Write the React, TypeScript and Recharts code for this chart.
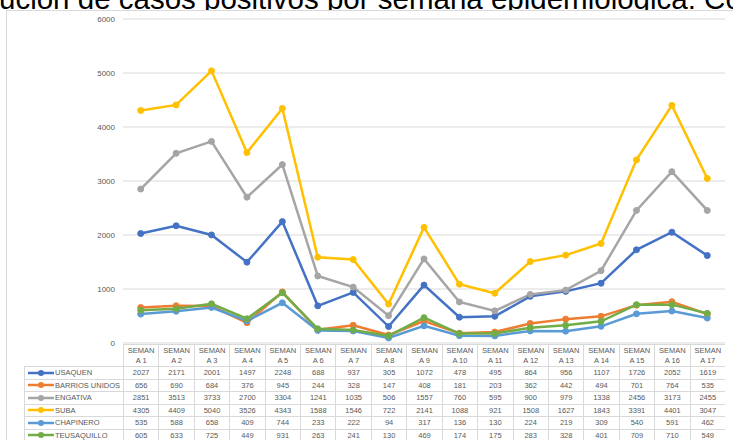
import React from 'react';
import { LineChart, Line, XAxis, YAxis, CartesianGrid } from 'recharts';

const weeks = ['SEMANA 1', 'SEMANA 2', 'SEMANA 3', 'SEMANA 4', 'SEMANA 5', 'SEMANA 6', 'SEMANA 7', 'SEMANA 8', 'SEMANA 9', 'SEMANA 10', 'SEMANA 11', 'SEMANA 12', 'SEMANA 13', 'SEMANA 14', 'SEMANA 15', 'SEMANA 16', 'SEMANA 17'];

const usaquen = [2027, 2171, 2001, 1497, 2248, 688, 937, 305, 1072, 478, 495, 864, 956, 1107, 1726, 2052, 1619];
const barriosUnidos = [656, 690, 684, 376, 945, 244, 328, 147, 408, 181, 203, 362, 442, 494, 701, 764, 535];
const engativa = [2851, 3513, 3733, 2700, 3304, 1241, 1035, 506, 1557, 760, 595, 900, 979, 1338, 2456, 3173, 2455];
const suba = [4305, 4409, 5040, 3526, 4343, 1588, 1546, 722, 2141, 1088, 921, 1508, 1627, 1843, 3391, 4401, 3047];
const chapinero = [535, 588, 658, 409, 744, 233, 222, 94, 317, 136, 130, 224, 219, 309, 540, 591, 462];
const teusaquillo = [605, 633, 725, 449, 931, 263, 241, 130, 469, 174, 175, 283, 328, 401, 709, 710, 549];

const yTicks = [0, 1000, 2000, 3000, 4000, 5000, 6000];

const series = [
  { key: 'usaquen', name: 'USAQUEN', color: '#4472C4', values: usaquen },
  { key: 'barrios', name: 'BARRIOS UNIDOS', color: '#ED7D31', values: barriosUnidos },
  { key: 'engativa', name: 'ENGATIVA', color: '#A5A5A5', values: engativa },
  { key: 'suba', name: 'SUBA', color: '#FFC000', values: suba },
  { key: 'chapinero', name: 'CHAPINERO', color: '#5B9BD5', values: chapinero },
  { key: 'teusaquillo', name: 'TEUSAQUILLO', color: '#70AD47', values: teusaquillo },
];

const data = weeks.map((w, i) => {
  const row: any = { week: w };
  series.forEach(s => { row[s.key] = s.values[i]; });
  return row;
});

const PLOT_LEFT = 123;
const PLOT_RIGHT = 725;
const COL_W = (PLOT_RIGHT - PLOT_LEFT) / weeks.length;
const TABLE_TOP = 344;
const HEAD_H = 22;
const ROW_H = 12.5;
const LEGEND_LEFT = 24;
const border = '1px solid #d9d9d9';
const font = '"Liberation Sans", Arial, sans-serif';

export default function App() {
  return (
    <div style={{ position: 'absolute', left: 0, top: 0, width: 733, height: 440, overflow: 'hidden', background: '#fff', fontFamily: font }}>
      <svg width={733} height={12} style={{ position: 'absolute', left: 0, top: 0 }}>
        <text x={-1} y={9} fontSize={29.5} fill="#000" fontFamily={font}>
          ución de casos positivos por semana epidemiológica: Co
        </text>
      </svg>
      <div style={{ position: 'absolute', left: 6, top: 10, width: 740, height: 440, borderLeft: border, borderTop: border, background: '#fff' }} />
      <div style={{ position: 'absolute', left: 0, top: 0 }}>
        <LineChart width={733} height={355} data={data} margin={{ top: 19, right: 8, bottom: 12, left: 0 }}>
          <CartesianGrid vertical={false} stroke="#d9d9d9" />
          <XAxis dataKey="week" hide padding={{ left: COL_W / 2, right: COL_W / 2 }} />
          <YAxis
            width={PLOT_LEFT}
            domain={[0, 6000]}
            ticks={yTicks}
            axisLine={false}
            tickLine={false}
            tick={{ fill: '#595959', fontSize: 8 }}
          />
          {series.map(s => (
            <Line
              key={s.key}
              dataKey={s.key}
              name={s.name}
              stroke={s.color}
              strokeWidth={2.5}
              dot={{ r: 3, fill: s.color, stroke: s.color, strokeWidth: 1 }}
              isAnimationActive={false}
            />
          ))}
        </LineChart>
      </div>
      {weeks.map((w, i) => (
        <div key={w} style={{
          position: 'absolute', left: PLOT_LEFT + i * COL_W, top: TABLE_TOP, width: COL_W, height: HEAD_H,
          borderLeft: border, borderTop: border, boxSizing: 'border-box', background: '#fff',
          fontSize: 7.5, color: '#595959', textAlign: 'center', lineHeight: '10px', paddingTop: 1,
        }}>
          {w.slice(0, 5)}<br />{w.slice(5)}
        </div>
      ))}
      {series.map((s, r) => (
        <React.Fragment key={s.key}>
          <div style={{
            position: 'absolute', left: LEGEND_LEFT, top: TABLE_TOP + HEAD_H + r * ROW_H, width: PLOT_LEFT - LEGEND_LEFT, height: ROW_H,
            borderLeft: border, borderTop: border, boxSizing: 'border-box', background: '#fff',
            display: 'flex', alignItems: 'center', fontSize: 7.5, color: '#595959', whiteSpace: 'nowrap',
          }}>
            <svg width={26} height={8} style={{ marginLeft: 3, marginRight: 1 }}>
              <line x1={0} y1={4} x2={26} y2={4} stroke={s.color} strokeWidth={2.5} />
              <circle cx={13} cy={4} r={3} fill={s.color} />
            </svg>
            {s.name}
          </div>
          {s.values.map((v, i) => (
            <div key={i} style={{
              position: 'absolute', left: PLOT_LEFT + i * COL_W, top: TABLE_TOP + HEAD_H + r * ROW_H, width: COL_W, height: ROW_H,
              borderLeft: border, borderTop: border, boxSizing: 'border-box', background: '#fff',
              fontSize: 7.5, color: '#595959', textAlign: 'center', lineHeight: '11px',
            }}>
              {v}
            </div>
          ))}
        </React.Fragment>
      ))}
    </div>
  );
}
